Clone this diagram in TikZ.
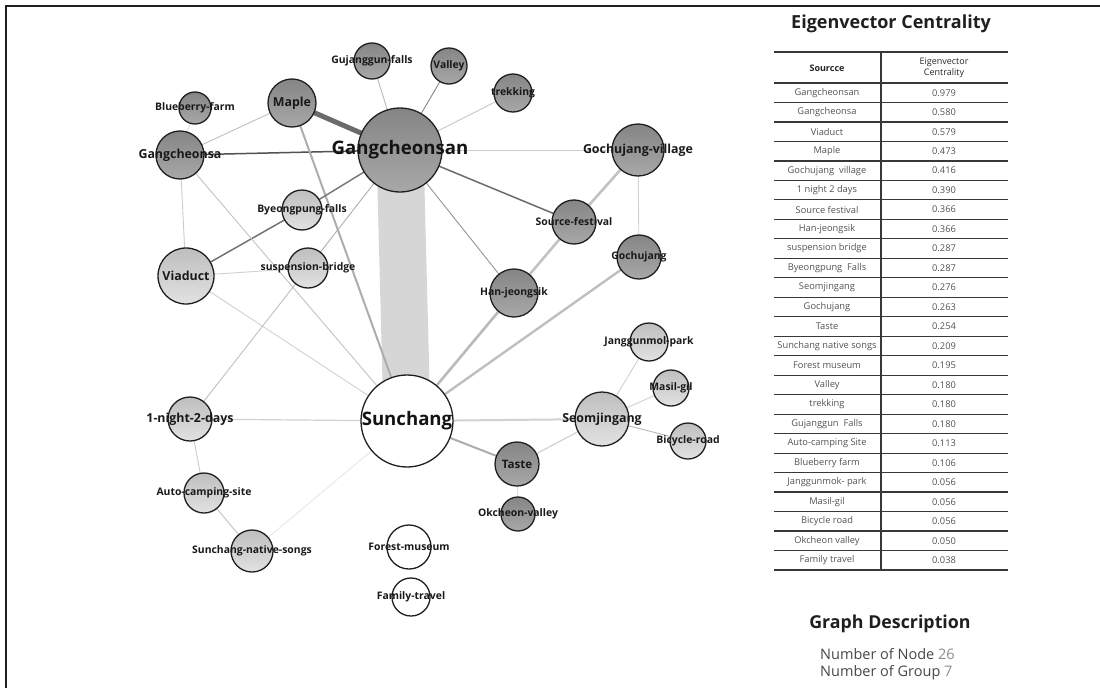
\documentclass[tikz,border=0pt]{standalone}
\usepackage{fontspec}
\setmainfont{Open Sans}
\usetikzlibrary{backgrounds}
\definecolor{dtop}{HTML}{858585}
\definecolor{dbot}{HTML}{A8A8A8}
\definecolor{ltop}{HTML}{BEBEBE}
\definecolor{lbot}{HTML}{E2E2E2}
\tikzset{
  nd/.style={circle, draw=black!88, line width=1.3pt, inner sep=0pt, minimum size=#1},
  dk/.style={nd=#1, top color=dtop, bottom color=dbot},
  lt/.style={nd=#1, top color=ltop, bottom color=lbot},
  wh/.style={nd=#1, fill=white},
  fb/.style={font=\bfseries\fontsize{18.6}{20}\selectfont, text=black!92},
  fm/.style={font=\bfseries\fontsize{12.4}{14}\selectfont, text=black!90},
  fn/.style={font=\bfseries\fontsize{11.6}{13}\selectfont, text=black!90},
  fs/.style={font=\bfseries\fontsize{10.4}{12}\selectfont, text=black!90},
  ea/.style={draw=#1, line width=0.9pt},
  eb/.style={draw=#1, line width=1.5pt},
  ec/.style={draw=#1, line width=2.6pt},
  rowtxt/.style={font=\fontsize{9.3}{10}\selectfont, text=black!68, inner sep=0pt},
  rule/.style={draw=black!78, line width=1.2pt},
}
\begin{document}
\begin{tikzpicture}[x=1pt,y=-1pt]
\useasboundingbox (0,0) rectangle (1100,688);
\draw[line width=2pt, black!88] (1100,6) -- (6,6) -- (6,688);

% ---------- nodes ----------
\node[dk=84pt, label={[fb]center:Gangcheonsan}] (gcs) at (400,150) {};
\node[wh=92pt, label={[fb]center:Sunchang}] (sun) at (407,421) {};
\node[dk=48pt, label={[fm]center:Maple}] (map) at (292,103) {};
\node[dk=32pt, label={[fs]center:Blueberry-farm}] (blu) at (195,108) {};
\node[dk=48pt, label={[fm]center:Gangcheonsa}] (gsa) at (180,155) {};
\node[lt=40pt, label={[fs]center:Byeongpung-falls}] (bye) at (302,210) {};
\node[lt=40pt, label={[fs]center:suspension-bridge}] (sus) at (308,268) {};
\node[lt=56pt, label={[fm]center:Viaduct}] (via) at (186,276) {};
\node[lt=44pt, label={[fm]center:1-night-2-days}] (one) at (190,419) {};
\node[lt=40pt, label={[fs]center:Auto-camping-site}] (aut) at (204,493) {};
\node[lt=42pt, label={[fs]center:Sunchang-native-songs}] (nat) at (252,551) {};
\node[wh=44pt, label={[fs]center:Forest-museum}] (for) at (409,547) {};
\node[wh=38pt, label={[fs]center:Family-travel}] (fam) at (411,597) {};
\node[dk=36pt, label={[fs]center:Gujanggun-falls}] (guj) at (372,61) {};
\node[dk=36pt, label={[fs]center:Valley}] (val) at (449,66) {};
\node[dk=38pt, label={[fs]center:trekking}] (tre) at (513,93) {};
\node[dk=52pt, label={[fm]center:Gochujang-village}] (gvi) at (638,150) {};
\node[dk=44pt, label={[fs]center:Source-festival}] (sou) at (574,222) {};
\node[dk=44pt, label={[fs]center:Gochujang}] (goc) at (639,257) {};
\node[dk=48pt, label={[fs]center:Han-jeongsik}] (han) at (514,293) {};
\node[lt=38pt, label={[fs]center:Janggunmol-park}] (jan) at (649,342) {};
\node[lt=36pt, label={[fs]center:Masil-gil}] (mas) at (671,388) {};
\node[lt=54pt, label={[fm]center:Seomjingang}] (seo) at (602,419) {};
\node[lt=36pt, label={[fs]center:Bicycle-road}] (bic) at (688,441) {};
\node[dk=44pt, label={[fn]center:Taste}] (tas) at (517,464) {};
\node[dk=34pt, label={[fs]center:Okcheon-valley}] (okc) at (518,514) {};

% ---------- edges ----------
\begin{scope}[on background layer]
\draw[draw=black!16, line width=47pt] (gcs.center) -- (sun.center);
\draw[draw=black!58, line width=5pt] (map.center) -- (gcs.center);
\draw[eb=black!68] (gsa.center) -- (gcs.center);
\draw[ea=black!25] (gsa.center) -- (map.center);
\draw[ea=black!12] (blu.center) -- (gsa.center);
\draw[line width=2pt, draw=black!32] (map.center) -- (sun.center);
\draw[ea=black!28] (guj.center) -- (gcs.center);
\draw[ea=black!48] (val.center) -- (gcs.center);
\draw[ea=black!22] (tre.center) -- (gcs.center);
\draw[ea=black!20] (gvi.center) -- (gcs.center);
\draw[eb=black!58] (sou.center) -- (gcs.center);
\draw[ea=black!42] (han.center) -- (gcs.center);
\draw[eb=black!52] (bye.center) -- (gcs.center);
\draw[ea=black!32] (sus.center) -- (gcs.center);
\draw[eb=black!55] (bye.center) -- (via.center);
\draw[ea=black!18] (via.center) -- (sus.center);
\draw[ea=black!20] (gsa.center) -- (via.center);
\draw[ea=black!24] (gsa.center) -- (sun.center);
\draw[ea=black!18] (via.center) -- (sun.center);
\draw[ea=black!25] (sus.center) -- (one.center);
\draw[line width=1.2pt, draw=black!18] (one.center) -- (sun.center);
\draw[ea=black!20] (one.center) -- (aut.center);
\draw[line width=1.2pt, draw=black!20] (aut.center) -- (nat.center);
\draw[line width=0.8pt, draw=black!10] (nat.center) -- (sun.center);
\draw[ec=black!24] (gvi.center) -- (sou.center);
\draw[ea=black!18] (gvi.center) -- (goc.center);
\draw[ec=black!24] (sou.center) -- (han.center);
\draw[ec=black!27] (han.center) -- (sun.center);
\draw[line width=2.4pt, draw=black!25] (goc.center) -- (sun.center);
\draw[line width=2pt, draw=black!18] (sun.center) -- (seo.center);
\draw[line width=2pt, draw=black!32] (sun.center) -- (tas.center);
\draw[line width=1.2pt, draw=black!18] (tas.center) -- (seo.center);
\draw[ea=black!12] (tas.center) -- (okc.center);
\draw[ea=black!18] (seo.center) -- (jan.center);
\draw[ea=black!18] (seo.center) -- (mas.center);
\draw[ea=black!28] (seo.center) -- (bic.center);
\end{scope}

% ---------- table ----------
\node[font=\bfseries\fontsize{18}{20}\selectfont, text=black!88] (ttl) at (891,24) {Eigenvector Centrality};
\draw[rule, line width=1.6pt] (774,52) -- (1008,52);
\node[font=\bfseries\fontsize{9}{10}\selectfont, text=black!85] (ha) at (827,68) {Sourcce};
\node[font=\fontsize{9}{11.5}\selectfont, text=black!85, align=center, inner sep=0pt] (hb) at (944,68) {Eigenvector\\Centrality};
\draw[rule, line width=1.8pt] (774,83) -- (1008,83);
\foreach \n/\v [count=\i] in {Gangcheonsan/0.979, Gangcheonsa/0.580, Viaduct/0.579, Maple/0.473,
  Gochujang\ \ village/0.416, 1 night 2 days/0.390, Source festival/0.366, Han-jeongsik/0.366,
  suspension bridge/0.287, Byeongpung\ \ Falls/0.287, Seomjingang/0.276, Gochujang/0.263,
  Taste/0.254, Sunchang native songs/0.209, Forest museum/0.195, Valley/0.180,
  trekking/0.180, Gujanggun\ \ Falls/0.180, Auto-camping Site/0.113, Blueberry farm/0.106,
  Janggunmok- park/0.056, Masil-gil/0.056, Bicycle road/0.056, Okcheon valley/0.050,
  Family travel/0.038} {
  \node[rowtxt] (ta\i) at ({827},{83+19.48*\i-9.74}) {\n};
  \node[rowtxt] (tb\i) at ({944},{83+19.48*\i-9.74}) {\v};
  \draw[rule] (774,{83+19.48*\i}) -- (1008,{83+19.48*\i});
}
\draw[rule, line width=1.3pt] (881,52) -- (881,570);

% ---------- description ----------
\node[font=\bfseries\fontsize{17.8}{20}\selectfont, text=black!88] (gd) at (890,624) {Graph Description};
\node[font=\fontsize{14.5}{16}\selectfont, text=black!72, anchor=west, inner sep=0pt] (n1) at (820,654) {Number of Node \textcolor{black!45}{26}};
\node[font=\fontsize{14.5}{16}\selectfont, text=black!72, anchor=west, inner sep=0pt] (n2) at (820,673) {Number of Group \textcolor{black!45}{7}};
\end{tikzpicture}
\end{document}
